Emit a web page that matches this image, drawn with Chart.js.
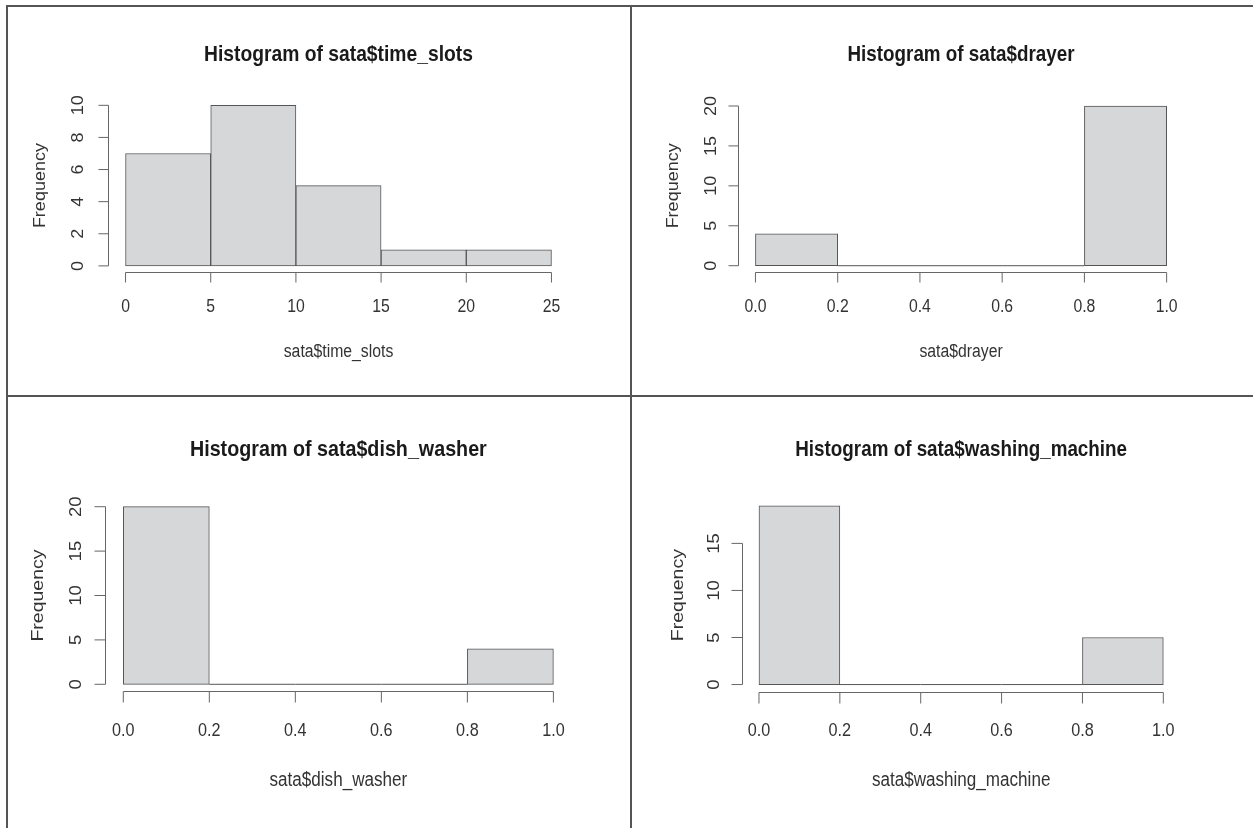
<!DOCTYPE html>
<html>
<head>
<meta charset="utf-8">
<script src="https://cdn.jsdelivr.net/npm/chart.js@4.4.1/dist/chart.umd.min.js"></script>
<style>
  html, body { margin: 0; padding: 0; background: #fff; }
  #page { position: relative; width: 1253px; height: 828px; overflow: hidden; }
  canvas { position: absolute; }
  .rule { position: absolute; background: #555; z-index: 2; }
</style>
</head>
<body>
<div id="page">
  <canvas id="h-time" width="631" height="396" style="left:0;top:0"></canvas>
  <canvas id="h-drayer" width="622" height="396" style="left:631px;top:0"></canvas>
  <canvas id="h-dish" width="631" height="432" style="left:0;top:396px"></canvas>
  <canvas id="h-wash" width="622" height="432" style="left:631px;top:396px"></canvas>
  <div class="rule" style="left:6px;top:5px;width:2px;height:823px"></div>
  <div class="rule" style="left:6px;top:5px;width:1247px;height:2px"></div>
  <div class="rule" style="left:630px;top:5px;width:2px;height:823px"></div>
  <div class="rule" style="left:6px;top:395px;width:1247px;height:2px"></div>
</div>
<script>
// histogram data
const timeSlotBreaks = [0, 5, 10, 15, 20, 25];
const timeSlotCounts = [7, 10, 5, 1, 1];
const binaryBreaks = [0, 0.2, 0.4, 0.6, 0.8, 1.0];
const drayerCounts = [4, 0, 0, 0, 20];
const dishWasherCounts = [20, 0, 0, 0, 4];
const washingMachineCounts = [19, 0, 0, 0, 5];

// tick labels
const timeSlotXTicks = ['0', '5', '10', '15', '20', '25'];
const binaryXTicks = ['0.0', '0.2', '0.4', '0.6', '0.8', '1.0'];
const timeSlotYTicks = [0, 2, 4, 6, 8, 10];
const twentyYTicks = [0, 5, 10, 15, 20];
const fifteenYTicks = [0, 5, 10, 15];

const FONT = '"Liberation Sans", Arial, Helvetica, sans-serif';
const SQUEEZE = 0.876;   // the picture is squashed horizontally

// panel layout: plot region in page pixels plus text offsets
const panels = [
    { id: 'h-time', left: 0, top: 0, width: 631, height: 396,
      area: { l: 108.5, r: 568.5, t: 98.9, b: 272.3 },
      off: { ytick: 29.5, ylab: 68.3, xtick: 34.7, xlab: 79.7, title: 44.2 },
      size: { tick: 18, lab: 18, title: 22 }, tickLen: 10,
      breaks: timeSlotBreaks, counts: timeSlotCounts, xTicks: timeSlotXTicks, yTicks: timeSlotYTicks,
      title: 'Histogram of sata$time_slots', xTitle: 'sata$time_slots' },
    { id: 'h-drayer', left: 631, top: 0, width: 622, height: 396,
      area: { l: 739, r: 1183.1, t: 99.6, b: 272.1 },
      off: { ytick: 27.6, ylab: 65.3, xtick: 34.9, xlab: 79.6, title: 44.6 },
      size: { tick: 18, lab: 18, title: 21.5 }, tickLen: 10,
      breaks: binaryBreaks, counts: drayerCounts, xTicks: binaryXTicks, yTicks: twentyYTicks,
      title: 'Histogram of sata$drayer', xTitle: 'sata$drayer' },
    { id: 'h-dish', left: 0, top: 396, width: 631, height: 432,
      area: { l: 106.1, r: 570.6, t: 499.6, b: 691.4 },
      off: { ytick: 29.8, ylab: 67.9, xtick: 39.3, xlab: 89.6, title: 50.1 },
      size: { tick: 18.5, lab: 19.5, title: 22.5 }, tickLen: 11,
      breaks: binaryBreaks, counts: dishWasherCounts, xTicks: binaryXTicks, yTicks: twentyYTicks,
      title: 'Histogram of sata$dish_washer', xTitle: 'sata$dish_washer' },
    { id: 'h-wash', left: 631, top: 396, width: 622, height: 432,
      area: { l: 742.8, r: 1179.5, t: 498.6, b: 691.7 },
      off: { ytick: 27.8, ylab: 64.3, xtick: 39.3, xlab: 89.3, title: 48.6 },
      size: { tick: 18.5, lab: 19.5, title: 21.5 }, tickLen: 11,
      breaks: binaryBreaks, counts: washingMachineCounts, xTicks: binaryXTicks, yTicks: fifteenYTicks,
      title: 'Histogram of sata$washing_machine', xTitle: 'sata$washing_machine' }
];

function squeezedText(ctx, text, x, y, font, color, rotate) {
    ctx.save();
    ctx.translate(x, y);
    ctx.scale(SQUEEZE, 1);
    if (rotate) ctx.rotate(-Math.PI / 2);
    ctx.font = font;
    ctx.fillStyle = color;
    ctx.textAlign = 'center';
    ctx.textBaseline = 'middle';
    ctx.fillText(text, 0, 0);
    ctx.restore();
}

// R style axes, labels and zero height bins
const rAxesPlugin = {
    id: 'rAxes',
    afterDatasetsDraw(chart, args, opts) {
        const p = opts.panel;
        const ctx = chart.ctx;
        const xs = chart.scales.x, ys = chart.scales.y;
        const y0 = ys.getPixelForValue(0);
        ctx.save();
        ctx.strokeStyle = '#555';
        ctx.lineWidth = 1;
        p.counts.forEach((c, i) => {
            if (c !== 0) return;
            ctx.beginPath();
            ctx.moveTo(xs.getPixelForValue(p.breaks[i]), y0);
            ctx.lineTo(xs.getPixelForValue(p.breaks[i + 1]), y0);
            ctx.stroke();
        });
        ctx.restore();
    },
    afterDraw(chart, args, opts) {
        const p = opts.panel;
        const ctx = chart.ctx;
        const area = chart.chartArea;
        const xs = chart.scales.x, ys = chart.scales.y;
        const axisColor = '#666';
        const textColor = '#333';

        ctx.save();
        ctx.strokeStyle = axisColor;
        ctx.lineWidth = 1;

        // x axis
        const xb = Math.round(area.bottom) + 0.5;
        const xFirst = xs.getPixelForValue(p.breaks[0]);
        const xLast = xs.getPixelForValue(p.breaks[p.breaks.length - 1]);
        ctx.beginPath();
        ctx.moveTo(xFirst, xb);
        ctx.lineTo(xLast, xb);
        p.breaks.forEach(v => {
            const px = xs.getPixelForValue(v);
            ctx.moveTo(px, xb);
            ctx.lineTo(px, xb + p.tickLen);
        });
        ctx.stroke();

        // y axis
        const yl = Math.round(area.left) - 0.5;
        const yFirst = ys.getPixelForValue(p.yTicks[0]);
        const yLast = ys.getPixelForValue(p.yTicks[p.yTicks.length - 1]);
        ctx.beginPath();
        ctx.moveTo(yl, yFirst);
        ctx.lineTo(yl, yLast);
        p.yTicks.forEach(v => {
            const py = ys.getPixelForValue(v);
            ctx.moveTo(yl, py);
            ctx.lineTo(yl - p.tickLen, py);
        });
        ctx.stroke();
        ctx.restore();

        const tickFont = p.size.tick + 'px ' + FONT;
        const labFont = p.size.lab + 'px ' + FONT;
        p.breaks.forEach((v, i) => {
            squeezedText(ctx, p.xTicks[i], xs.getPixelForValue(v), area.bottom + p.off.xtick, tickFont, textColor, false);
        });
        p.yTicks.forEach(v => {
            squeezedText(ctx, String(v), area.left - p.off.ytick, ys.getPixelForValue(v), tickFont, textColor, true);
        });

        const midX = (area.left + area.right) / 2;
        const midY = (area.top + area.bottom) / 2;
        squeezedText(ctx, 'Frequency', area.left - p.off.ylab, midY, labFont, textColor, true);
        squeezedText(ctx, p.xTitle, midX, area.bottom + p.off.xlab, labFont, textColor, false);
        squeezedText(ctx, p.title, midX, area.top - p.off.title, 'bold ' + p.size.title + 'px ' + FONT, '#1a1a1a', false);
    }
};

function makeHistogram(p) {
    const ctx = document.getElementById(p.id).getContext('2d');
    const lo = p.breaks[0];
    const hi = p.breaks[p.breaks.length - 1];
    const xPad = (hi - lo) * 0.04;
    const yMax = Math.max(...p.counts);
    const yPad = yMax * 0.04;

    const points = p.counts.map((c, i) => ({ x: (p.breaks[i] + p.breaks[i + 1]) / 2, y: c }));

    return new Chart(ctx, {
        type: 'bar',
        data: {
            datasets: [{
                data: points,
                backgroundColor: '#d6d7d9',
                borderColor: '#555',
                borderWidth: 1,
                borderSkipped: false,
                barPercentage: 1,
                categoryPercentage: 1
            }]
        },
        options: {
            responsive: false,
            animation: false,
            events: [],
            layout: {
                padding: {
                    left: p.area.l - p.left,
                    right: p.left + p.width - p.area.r,
                    top: p.area.t - p.top,
                    bottom: p.top + p.height - p.area.b
                }
            },
            plugins: {
                legend: { display: false },
                tooltip: { enabled: false },
                rAxes: { panel: p }
            },
            scales: {
                x: { type: 'linear', display: false, offset: false, min: lo - xPad, max: hi + xPad },
                y: { type: 'linear', display: false, min: -yPad, max: yMax + yPad }
            }
        },
        plugins: [rAxesPlugin]
    });
}

panels.forEach(makeHistogram);
</script>
</body>
</html>
